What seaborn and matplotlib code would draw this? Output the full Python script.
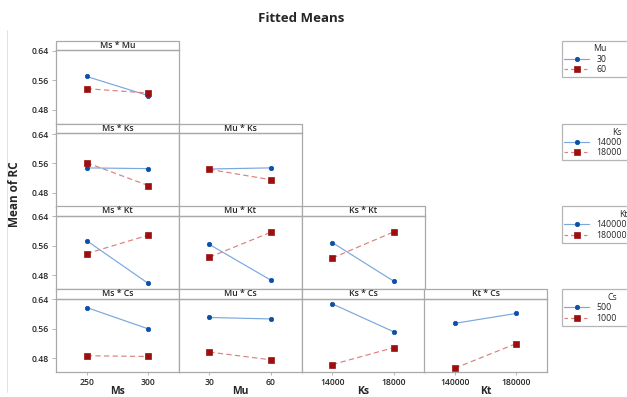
import matplotlib
matplotlib.use("Agg")
import matplotlib.pyplot as plt
from matplotlib.patches import Rectangle
from matplotlib.lines import Line2D
import seaborn as sns
import pandas as pd

sns.set_theme(style="white")
plt.rcParams['font.family'] = ['Open Sans', 'DejaVu Sans']

# ---- factor levels (tick labels) ----
ms_levels = ["250", "300"]
mu_levels = ["30", "60"]
ks_levels = ["14000", "18000"]
kt_levels = ["140000", "180000"]
cs_levels = ["500", "1000"]
levels = {"Ms": ms_levels, "Mu": mu_levels, "Ks": ks_levels,
          "Kt": kt_levels, "Cs": cs_levels}

x_factors = ["Ms", "Mu", "Ks", "Kt"]
trace_factors = ["Mu", "Ks", "Kt", "Cs"]

# ---- fitted means: [at low x, at high x] for low / high trace level ----
ms_mu_low = [0.570, 0.518]
ms_mu_high = [0.537, 0.525]
ms_ks_low = [0.548, 0.546]
ms_ks_high = [0.562, 0.500]
mu_ks_low = [0.545, 0.548]
mu_ks_high = [0.544, 0.516]
ms_kt_low = [0.574, 0.458]
ms_kt_high = [0.539, 0.589]
mu_kt_low = [0.564, 0.467]
mu_kt_high = [0.529, 0.597]
ks_kt_low = [0.569, 0.464]
ks_kt_high = [0.527, 0.598]
ms_cs_low = [0.618, 0.560]
ms_cs_high = [0.487, 0.485]
mu_cs_low = [0.591, 0.587]
mu_cs_high = [0.497, 0.476]
ks_cs_low = [0.628, 0.552]
ks_cs_high = [0.463, 0.509]
kt_cs_low = [0.575, 0.602]
kt_cs_high = [0.453, 0.520]

panels = {
    ("Ms", "Mu"): (ms_mu_low, ms_mu_high),
    ("Ms", "Ks"): (ms_ks_low, ms_ks_high),
    ("Mu", "Ks"): (mu_ks_low, mu_ks_high),
    ("Ms", "Kt"): (ms_kt_low, ms_kt_high),
    ("Mu", "Kt"): (mu_kt_low, mu_kt_high),
    ("Ks", "Kt"): (ks_kt_low, ks_kt_high),
    ("Ms", "Cs"): (ms_cs_low, ms_cs_high),
    ("Mu", "Cs"): (mu_cs_low, mu_cs_high),
    ("Ks", "Cs"): (ks_cs_low, ks_cs_high),
    ("Kt", "Cs"): (kt_cs_low, kt_cs_high),
}
yticks = [0.48, 0.56, 0.64]

# ---- style ----
line_blue = "#7aa7dd"
mk_blue = "#0d4fa6"
line_red = "#dc8080"
mk_red = "#9c0f0f"
frame = "#a9a9a9"
txt = "#262626"

W, H = 627, 397
fig = plt.figure(figsize=(W / 100, H / 100), dpi=100)

col_left = [56, 178.5, 301.5, 424]
col_w = 123
row_top = [50, 133.3, 215.7, 298.7]
row_h = 73.6
strip_h = 9.5

line_specs = [
    dict(color=line_blue, mk=mk_blue, ms=3.2, dashes=None),
    dict(color=line_red, mk=mk_red, ms=3.8, dashes=[4.5, 2.8]),
]


def style_lines(ax):
    for ln, spec in zip(ax.lines, line_specs):
        ln.set_linewidth(0.85)
        ln.set_color(spec["color"])
        ln.set_markerfacecolor(spec["mk"])
        ln.set_markeredgecolor(spec["mk"])
        ln.set_markersize(spec["ms"])
        ln.set_markeredgewidth(0.5)
        if spec["dashes"]:
            ln.set_dashes(spec["dashes"])


for r, tf in enumerate(trace_factors):
    for c in range(r + 1):
        xf = x_factors[c]
        low, high = panels[(xf, tf)]
        df = pd.DataFrame({
            "x": levels[xf] * 2,
            "trace": [levels[tf][0]] * 2 + [levels[tf][1]] * 2,
            "mean": low + high,
        })
        ax = fig.add_axes([col_left[c] / W, 1 - (row_top[r] + row_h) / H,
                           col_w / W, row_h / H])
        sns.pointplot(data=df, x="x", y="mean", hue="trace",
                      order=levels[xf], hue_order=levels[tf],
                      palette=[line_blue, line_red], markers=["o", "s"],
                      linestyles=["-", "--"], errorbar=None, legend=False,
                      ax=ax)
        style_lines(ax)
        ax.set_xlim(-0.5, 1.5)
        ax.set_ylim(0.442, 0.642)
        for s in ax.spines.values():
            s.set_color(frame)
            s.set_linewidth(0.9)
        ax.set_ylabel("")
        ax.set_xlabel("")
        ax.set_yticks(yticks)
        if c == 0:
            ax.set_yticklabels([f"{v:.2f}" for v in yticks])
            ax.tick_params(axis="y", left=True, length=3, width=0.6,
                           color=frame, labelsize=6.2, labelcolor=txt, pad=2)
        else:
            ax.tick_params(axis="y", left=False, labelleft=False)
        if r == len(trace_factors) - 1:
            ax.tick_params(axis="x", bottom=True, length=2.5, width=0.6,
                           color=frame, labelsize=6.2, labelcolor=txt, pad=1.5)
            ax.set_xlabel(xf, fontsize=7.5, fontweight="bold", color=txt,
                          labelpad=-0.5)
        else:
            ax.tick_params(axis="x", bottom=False, labelbottom=False)
        for lab in ax.get_xticklabels() + ax.get_yticklabels():
            lab.set_fontweight("semibold")
        # strip
        sh = strip_h / row_h
        ax.add_patch(Rectangle((0, 1), 1, sh, transform=ax.transAxes,
                               facecolor="white", edgecolor=frame,
                               linewidth=0.9, clip_on=False))
        ax.text(0.5, 1 + sh / 2, f"{xf} * {tf}", transform=ax.transAxes,
                ha="center", va="center", fontsize=6.3, color=txt,
                fontweight="semibold")

    # legend for this row
    top = row_top[r] - strip_h
    fig.patches.append(Rectangle((562 / W, 1 - (top + 36.5) / H), 80 / W,
                                 36.5 / H, transform=fig.transFigure,
                                 facecolor="white", edgecolor="#b5b5b5",
                                 linewidth=0.9))
    handles = [
        Line2D([], [], color=line_blue, lw=0.85, marker="o", ms=3.2,
               mfc=mk_blue, mec=mk_blue, mew=0.5),
        Line2D([], [], color=line_red, lw=0.85, ls=(0, (3, 2.5)), marker="s",
               ms=3.8, mfc=mk_red, mec=mk_red, mew=0.5),
    ]
    fig.legend(handles=handles, labels=levels[tf], title=tf,
               loc="upper left", bbox_to_anchor=(563 / W, 1 - (top + 2.5) / H),
               frameon=False, fontsize=6.3, title_fontsize=6.3,
               alignment="right", handlelength=2.8, handletextpad=0.9,
               labelspacing=0.15, borderpad=0.15, borderaxespad=0)

# faint outer border line on the left
fig.add_artist(Line2D([7 / W, 7 / W], [1 - 30 / H, 1 - 392 / H],
                      transform=fig.transFigure, color="#e2e2e2", lw=0.7))

fig.text(301 / W, 1 - 18 / H, "Fitted Means", ha="center", va="center",
         fontsize=9.5, fontweight="bold", color=txt)
fig.text(15 / W, 1 - 194 / H, "Mean of RC", ha="center", va="center",
         rotation=90, fontsize=8.5, fontweight="bold", color=txt)

fig.savefig("out.png", dpi=100, facecolor="white")
